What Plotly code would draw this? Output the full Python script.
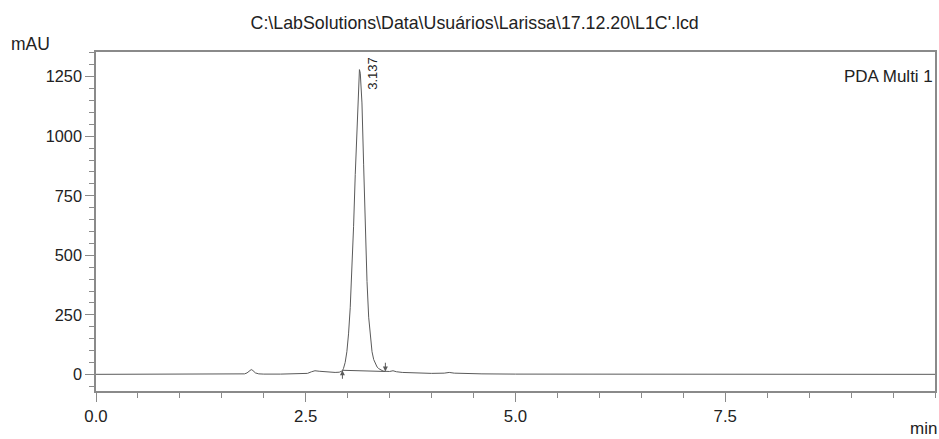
import plotly.graph_objects as go

# Chromatogram (time in min, absorbance in mAU)
time_min = [0.0, 0.5, 1.0, 1.5, 1.70, 1.77, 1.80, 1.83, 1.85, 1.87, 1.90, 1.94, 2.00, 2.20, 2.45,
            2.52, 2.57, 2.61, 2.66, 2.75, 2.85, 2.90, 2.937, 2.95, 2.97, 2.99, 3.01, 3.03, 3.05,
            3.07, 3.09, 3.11, 3.13, 3.14, 3.15, 3.17, 3.19, 3.21, 3.23, 3.25, 3.27, 3.29, 3.31,
            3.33, 3.35, 3.37, 3.39, 3.41, 3.43, 3.449, 3.50, 3.54, 3.58, 3.65, 3.80, 4.00, 4.15,
            4.21, 4.27, 4.40, 4.60, 5.00, 5.50, 6.00, 6.50, 7.00, 7.50, 8.00, 8.50, 9.00, 9.50, 10.0]
absorb_mau = [0, 0, 0, 0, 0, 2, 6, 14, 20, 16, 6, 2, 1, 1, 1,
              4, 11, 15, 13, 10, 8, 9, 15, 25, 50, 95, 170, 280, 430,
              620, 840, 1050, 1230, 1280, 1265, 1140, 880, 610, 390, 240, 150, 95, 62,
              43, 31, 24, 19, 16, 13, 12, 12, 15, 11, 8, 6, 4, 5,
              8, 5, 3, 2, 1, 1, 2, 2, 2, 2, 1.5, 1, 0.5, 0, 0]

# Peak integration
peak_rt = 3.137
peak_height = 1280
peak_start = [2.937, 17]
peak_end = [3.449, 12]

title_text = "C:\\LabSolutions\\Data\\Usuários\\Larissa\\17.12.20\\L1C'.lcd"
x_ticks = [0.0, 2.5, 5.0, 7.5]
y_ticks = [0, 250, 500, 750, 1000, 1250]

FONT = "Liberation Sans, Arial, sans-serif"
LINE = "#5a5a5a"
AXIS = "#8a8a8a"
TXT = "#222"

fig = go.Figure()
fig.add_trace(go.Scatter(x=time_min, y=absorb_mau, mode="lines",
                         line=dict(color=LINE, width=1), hoverinfo="skip"))
fig.add_trace(go.Scatter(x=[peak_start[0], peak_end[0]], y=[peak_start[1], peak_end[1]],
                         mode="lines", line=dict(color=LINE, width=1), hoverinfo="skip"))

# start / end markers
fig.add_annotation(x=peak_start[0], y=peak_start[1], ax=peak_start[0], ay=-25,
                   xref="x", yref="y", axref="x", ayref="y", showarrow=True,
                   arrowhead=2, arrowsize=1, arrowwidth=1, arrowcolor=LINE, text="")
fig.add_annotation(x=peak_end[0], y=peak_end[1], ax=peak_end[0], ay=55,
                   xref="x", yref="y", axref="x", ayref="y", showarrow=True,
                   arrowhead=2, arrowsize=1, arrowwidth=1, arrowcolor=LINE, text="")

fig.add_annotation(x=peak_rt, y=peak_height - 25, xref="x", yref="y", text=f"{peak_rt:.3f}",
                   textangle=-90, showarrow=False, xshift=13, yshift=2,
                   xanchor="center", yanchor="middle",
                   font=dict(family=FONT, size=13, color=TXT))

fig.add_annotation(x=-0.0785, y=1.0236, xref="paper", yref="paper", text="mAU",
                   showarrow=False, xanchor="center", yanchor="middle",
                   font=dict(family=FONT, size=17.5, color=TXT))
fig.add_annotation(x=0.986, y=-0.112, xref="paper", yref="paper", text="min",
                   showarrow=False, xanchor="center", yanchor="middle",
                   font=dict(family=FONT, size=17, color=TXT))
fig.add_annotation(x=1.0, y=0.928, xref="paper", yref="paper", text="PDA Multi 1",
                   showarrow=False, xanchor="right", yanchor="middle",
                   font=dict(family=FONT, size=17, color=TXT))

fig.update_layout(
    width=939, height=439,
    margin=dict(l=96, r=2, t=52, b=48),
    paper_bgcolor="white", plot_bgcolor="white",
    showlegend=False,
    title=dict(text=title_text, x=0.5055, xref="container", xanchor="center",
               y=1 - 23 / 439, yref="container", yanchor="middle",
               font=dict(family=FONT, size=17.8, color=TXT)),
    font=dict(family=FONT, size=16, color=TXT),
)
fig.update_xaxes(range=[0, 10], tickvals=x_ticks, ticktext=[f"{v:.1f}" for v in x_ticks],
                 showgrid=False, zeroline=False, showline=True, mirror=True,
                 linecolor=AXIS, linewidth=1.5, ticks="outside", ticklen=9, tickcolor=AXIS,
                 tickwidth=1, minor=dict(dtick=0.5, tick0=0, ticks="outside", ticklen=5,
                                         tickcolor=AXIS, tickwidth=1),
                 tickfont=dict(family=FONT, size=16.8, color=TXT))
fig.update_yaxes(range=[-70, 1354], tickvals=y_ticks,
                 showgrid=False, zeroline=False, showline=True, mirror=True,
                 linecolor=AXIS, linewidth=1.5, ticks="outside", ticklen=9, tickcolor=AXIS,
                 tickwidth=1, minor=dict(dtick=50, tick0=0, ticks="outside", ticklen=5,
                                         tickcolor=AXIS, tickwidth=1),
                 tickfont=dict(family=FONT, size=16.3, color=TXT))

fig.write_html("out.html", config={"displayModeBar": False},
               post_script="document.body.style.margin='0';")
